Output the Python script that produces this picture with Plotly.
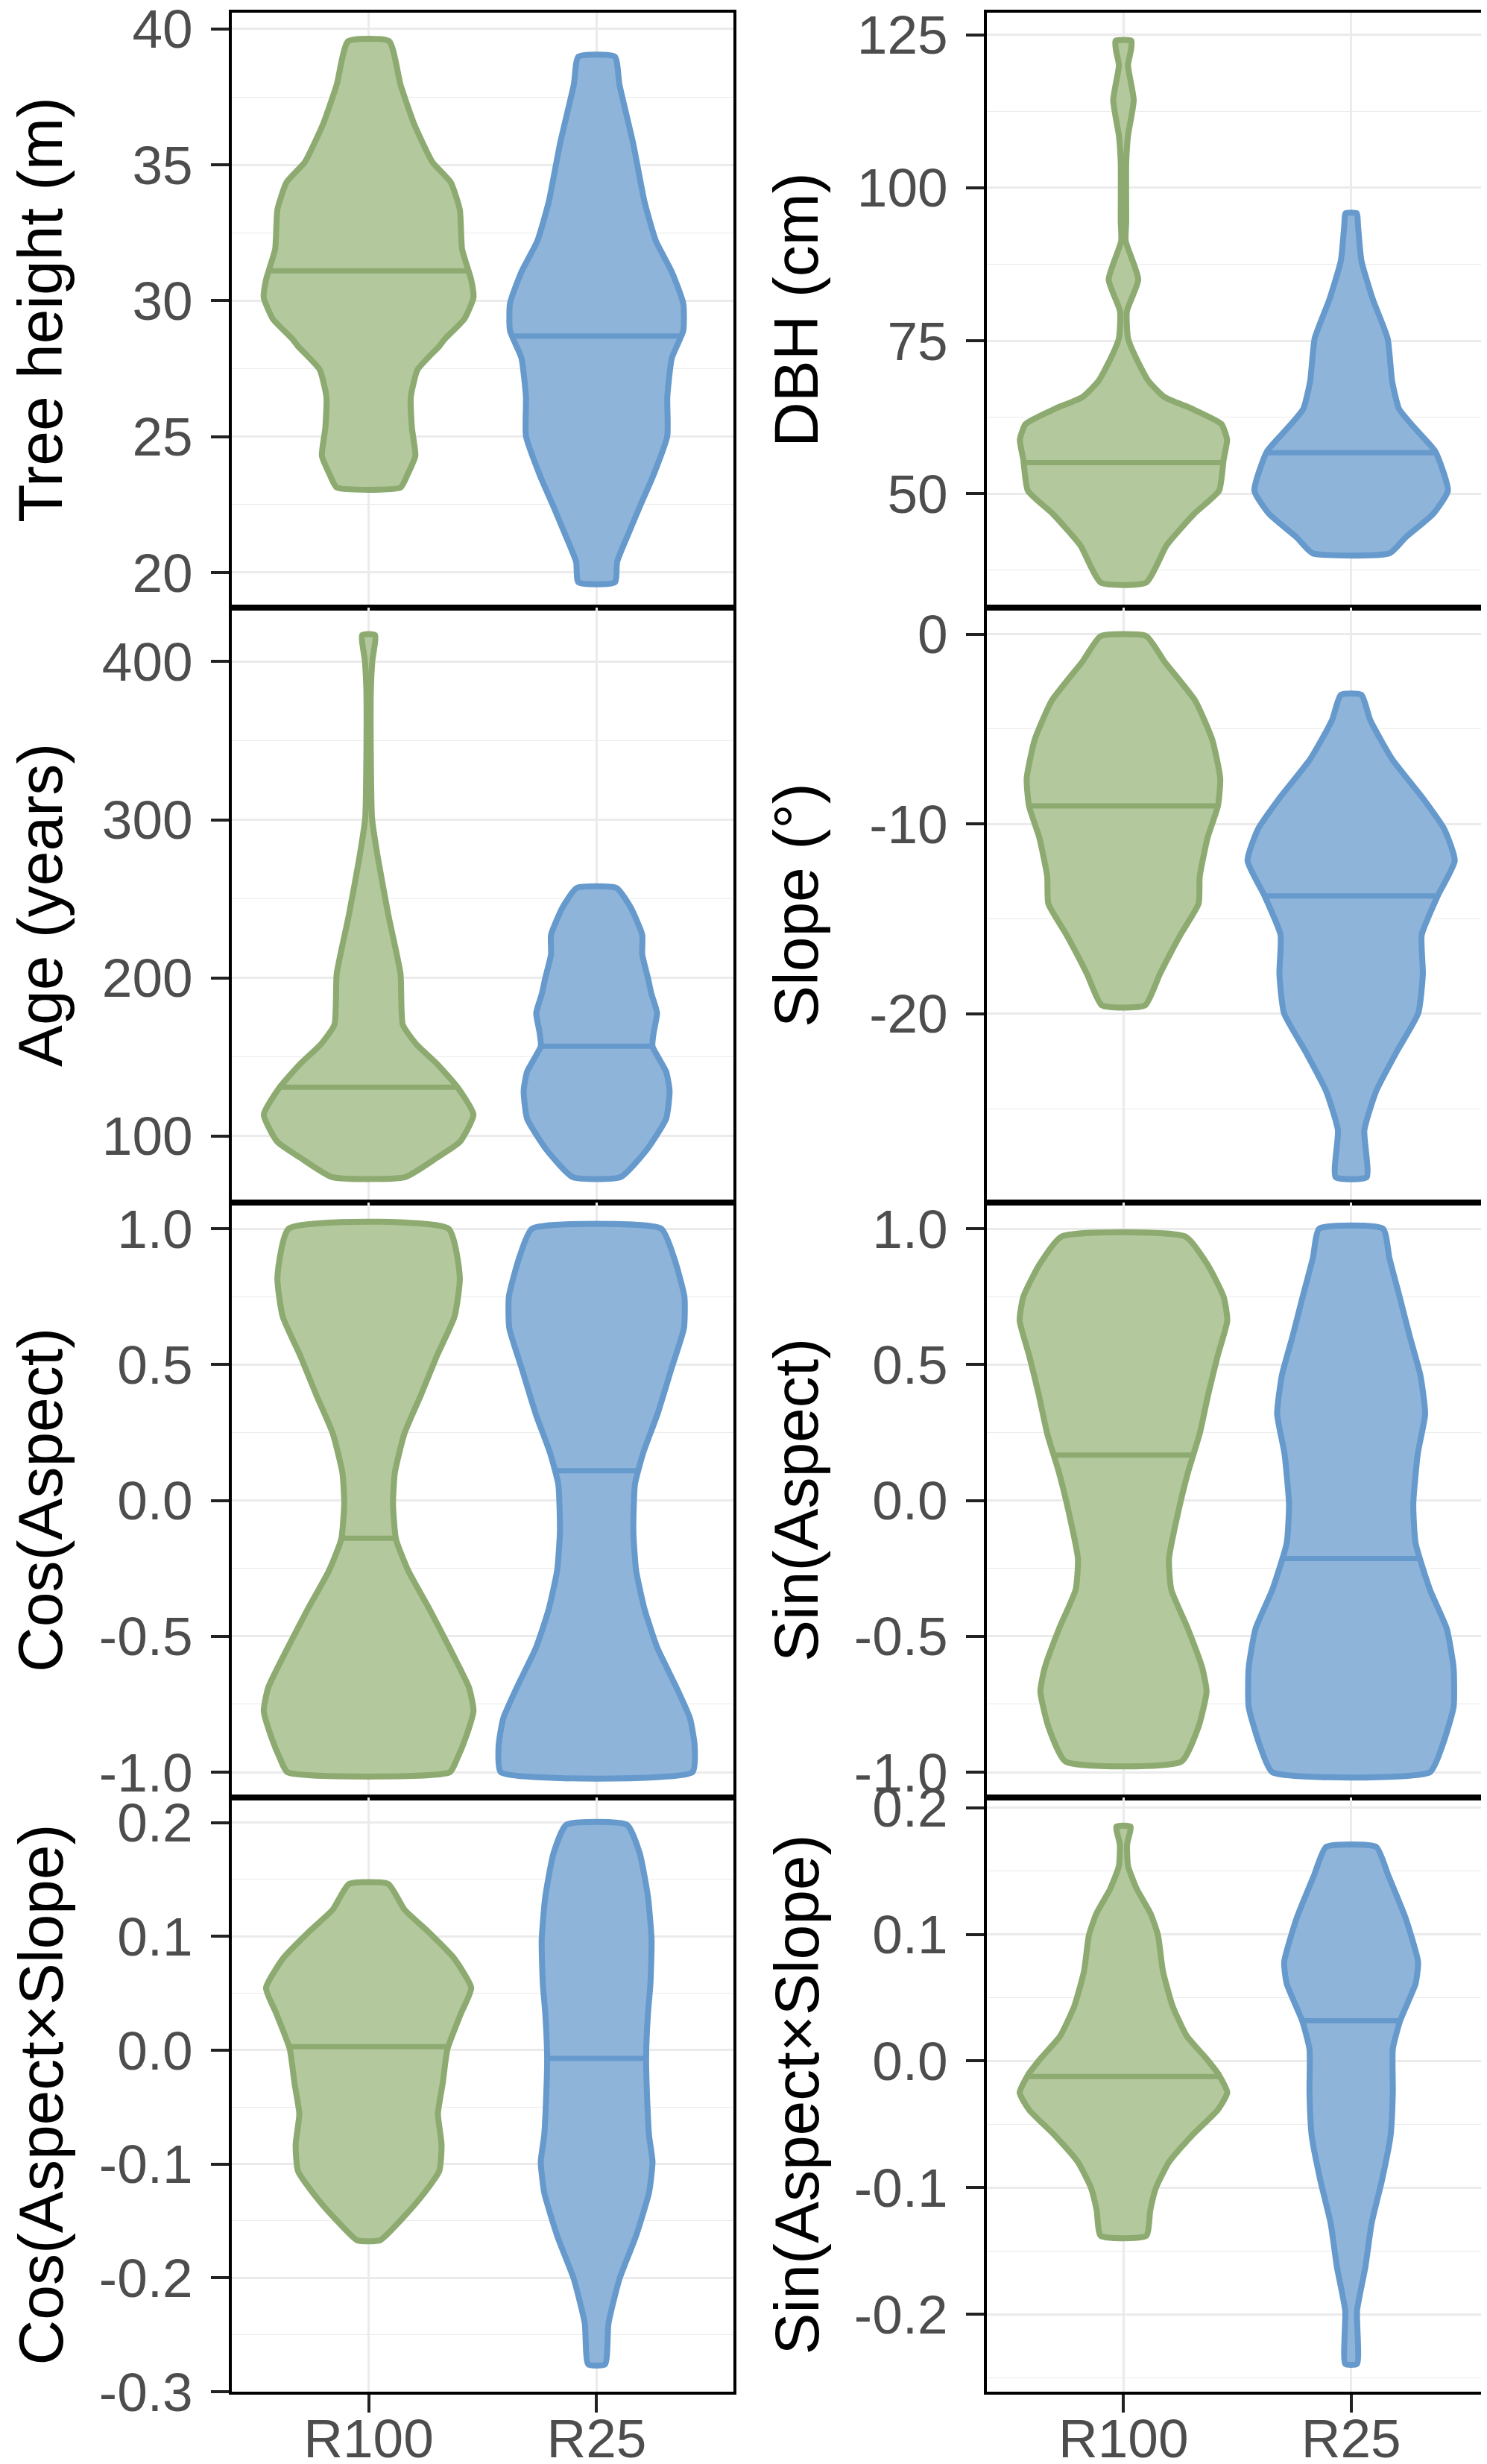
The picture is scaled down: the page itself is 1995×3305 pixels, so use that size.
import numpy as np
import plotly.graph_objects as go

groups = ["R100", "R25"]
fill_colors = ["#B3C89D", "#8FB4DA"]
line_colors = ["#8DAA70", "#6699CC"]

# violin outlines: y value and half-width (in category units)
# Tree height (m)
height_r100_y = [39.55, 37.95, 36.5, 35.1, 34.36, 33.35, 31.9, 30.77, 30.12, 29.33, 28.6, 28.33,
                 27.47, 26.46, 25.31, 24.3, 23.59, 23.13]
height_r100_w = [0.09, 0.14, 0.20, 0.28, 0.36, 0.40, 0.41, 0.45, 0.46, 0.42, 0.335, 0.31,
                 0.215, 0.185, 0.19, 0.205, 0.17, 0.14]
height_r25_y = [38.98, 37.95, 35.8, 33.64, 32.2, 31.06, 29.9, 28.9, 27.9, 26.46, 25.03, 23.6,
                22.44, 21.44, 20.4, 19.64]
height_r25_w = [0.08, 0.10, 0.16, 0.21, 0.26, 0.33, 0.38, 0.38, 0.33, 0.31, 0.31, 0.25,
                0.19, 0.14, 0.09, 0.08]
height_median = [31.1, 28.7]

# DBH (cm)
dbh_r100_y = [124.0, 122.5, 120, 114.3, 108.5, 104.1, 94.5, 91.3, 85, 79.8, 75.4, 72.2, 68.4,
              65.8, 63.9, 61.4, 58.8, 55.6, 50.5, 46.7, 41.6, 35.5]
dbh_r100_w = [0.035, 0.033, 0.02, 0.045, 0.02, 0.012, 0.012, 0.01, 0.065, 0.015, 0.02, 0.055, 0.11,
              0.18, 0.30, 0.43, 0.455, 0.44, 0.42, 0.31, 0.19, 0.10]
dbh_r25_y = [95.8, 93.9, 88.1, 81.8, 75.4, 68.4, 63.9, 60.7, 56.9, 50.5, 46.7, 42.9, 40.3]
dbh_r25_w = [0.025, 0.03, 0.045, 0.095, 0.16, 0.18, 0.21, 0.28, 0.37, 0.425, 0.36, 0.24, 0.17]
dbh_median = [55.1, 56.7]

# Age (years)
age_r100_y = [416.8, 400, 382.7, 338, 301, 276.5, 239.5, 202.5, 170.4, 158, 145.7, 130.9,
              113.6, 96.3, 86.4, 74.1]
age_r100_w = [0.028, 0.016, 0.01, 0.01, 0.015, 0.04, 0.087, 0.14, 0.15, 0.21, 0.30, 0.39,
              0.46, 0.40, 0.30, 0.16]
age_r25_y = [256.8, 244.4, 227.2, 214.8, 200, 190.1, 177.8, 165.4, 156.8, 140.7, 128.4, 111.1,
             91.4, 74.1]
age_r25_w = [0.088, 0.15, 0.20, 0.20, 0.225, 0.24, 0.265, 0.25, 0.245, 0.305, 0.32, 0.305,
             0.22, 0.105]
age_median = [130.9, 156.8]

# Slope (deg)
slope_r100_y = [-0.1, -1.44, -3.5, -5.56, -7.6, -9.05, -10.7, -12.76, -14.2, -15.84, -17.9, -19.55]
slope_r100_w = [0.10, 0.18, 0.315, 0.39, 0.425, 0.415, 0.37, 0.335, 0.33, 0.25, 0.16, 0.095]
slope_r25_y = [-3.19, -4.53, -6.58, -8.64, -10.29, -11.93, -13.79, -15.84, -17.9, -19.96, -22.0,
               -24.07, -26.13, -28.6]
slope_r25_w = [0.045, 0.084, 0.18, 0.315, 0.41, 0.455, 0.38, 0.31, 0.315, 0.295, 0.20,
               0.11, 0.058, 0.068]
slope_median = [-9.05, -13.79]

# Cos(Aspect)
cos_r100_y = [1.0, 0.82, 0.677, 0.533, 0.389, 0.246, 0.102, -0.013, -0.142, -0.257, -0.40,
              -0.544, -0.688, -0.774, -0.875, -0.947, -1.0]
cos_r100_w = [0.35, 0.40, 0.377, 0.30, 0.23, 0.157, 0.115, 0.107, 0.12, 0.173, 0.267,
              0.356, 0.44, 0.46, 0.425, 0.39, 0.356]
cos_r25_y = [1.0, 0.892, 0.749, 0.634, 0.49, 0.318, 0.174, 0.059, -0.114, -0.257, -0.40,
             -0.544, -0.688, -0.803, -0.904, -1.0]
cos_r25_w = [0.283, 0.34, 0.385, 0.383, 0.33, 0.267, 0.204, 0.168, 0.161, 0.173, 0.21,
             0.267, 0.35, 0.41, 0.43, 0.42]
cos_median = [-0.139, 0.109]

# Sin(Aspect)
sin_r100_y = [0.971, 0.864, 0.749, 0.662, 0.533, 0.389, 0.246, 0.102, -0.041, -0.214, -0.328,
              -0.472, -0.616, -0.703, -0.832, -0.961]
sin_r100_w = [0.272, 0.372, 0.44, 0.456, 0.414, 0.372, 0.335, 0.283, 0.241, 0.20, 0.21,
              0.283, 0.346, 0.365, 0.33, 0.254]
sin_r25_y = [1.0, 0.892, 0.749, 0.605, 0.461, 0.318, 0.174, -0.013, -0.157, -0.328, -0.472,
             -0.616, -0.76, -0.904, -1.0]
sin_r25_w = [0.14, 0.168, 0.213, 0.257, 0.304, 0.325, 0.293, 0.273, 0.283, 0.346, 0.42,
             0.45, 0.45, 0.40, 0.346]
sin_median = [0.167, -0.214]

# Cos(Aspect x Slope)
cosslope_r100_y = [0.146, 0.1236, 0.104, 0.0815, 0.0547, 0.0318, 0.0012, -0.029, -0.056,
                   -0.083, -0.106, -0.129, -0.148, -0.167]
cosslope_r100_w = [0.086, 0.157, 0.262, 0.372, 0.45, 0.404, 0.346, 0.325, 0.304,
                   0.32, 0.31, 0.23, 0.147, 0.05]
cosslope_r25_y = [0.198, 0.173, 0.135, 0.0968, 0.0586, 0.0318, -0.0064, -0.0446, -0.075,
                  -0.098, -0.125, -0.163, -0.201, -0.24, -0.276]
cosslope_r25_w = [0.133, 0.189, 0.225, 0.241, 0.236, 0.225, 0.217, 0.222, 0.23,
                  0.245, 0.23, 0.173, 0.10, 0.052, 0.037]
cosslope_median = [0.003, -0.0072]

# Sin(Aspect x Slope)
sinslope_r100_y = [0.185, 0.171, 0.154, 0.136, 0.116, 0.099, 0.0712, 0.0438, 0.0197, 0.0024,
                   -0.0112, -0.025, -0.0386, -0.059, -0.0798, -0.1004, -0.1176, -0.138]
sinslope_r100_w = [0.031, 0.016, 0.02, 0.058, 0.12, 0.152, 0.173, 0.215, 0.278, 0.362,
                   0.42, 0.456, 0.414, 0.30, 0.20, 0.142, 0.118, 0.10]
sinslope_r25_y = [0.169, 0.147, 0.1124, 0.0781, 0.061, 0.0318, 0.0094, -0.0249, -0.0592,
                  -0.0936, -0.128, -0.162, -0.197, -0.239]
sinslope_r25_w = [0.11, 0.162, 0.24, 0.294, 0.283, 0.215, 0.183, 0.183, 0.173,
                  0.136, 0.09, 0.063, 0.026, 0.026]
sinslope_median = [-0.0122, 0.0318]

# tick values / labels per panel
height_ticks = [20, 25, 30, 35, 40]
dbh_ticks = [50, 75, 100, 125]
age_ticks = [100, 200, 300, 400]
slope_ticks = [-20, -10, 0]
aspect_ticks = [-1.0, -0.5, 0.0, 0.5, 1.0]
aspect_labels = ["-1.0", "-0.5", "0.0", "0.5", "1.0"]
cosslope_ticks = [-0.3, -0.2, -0.1, 0.0, 0.1, 0.2]
cosslope_labels = ["-0.3", "-0.2", "-0.1", "0.0", "0.1", "0.2"]
sinslope_ticks = [-0.2, -0.1, 0.0, 0.1, 0.2]
sinslope_labels = ["-0.2", "-0.1", "0.0", "0.1", "0.2"]

panels = [
    ("Tree height (m)", height_r100_y, height_r100_w, height_r25_y, height_r25_w, height_median,
     [18.71, 40.60], height_ticks, [str(t) for t in height_ticks], 2.5),
    ("DBH (cm)", dbh_r100_y, dbh_r100_w, dbh_r25_y, dbh_r25_w, dbh_median,
     [31.4, 128.6], dbh_ticks, [str(t) for t in dbh_ticks], 12.5),
    ("Age (years)", age_r100_y, age_r100_w, age_r25_y, age_r25_w, age_median,
     [58.0, 434.1], age_ticks, [str(t) for t in age_ticks], 50),
    ("Slope (°)", slope_r100_y, slope_r100_w, slope_r25_y, slope_r25_w, slope_median,
     [-29.94, 1.40], slope_ticks, [str(t) for t in slope_ticks], 5),
    ("Cos(Aspect)", cos_r100_y, cos_r100_w, cos_r25_y, cos_r25_w, cos_median,
     [-1.093, 1.096], aspect_ticks, aspect_labels, 0.25),
    ("Sin(Aspect)", sin_r100_y, sin_r100_w, sin_r25_y, sin_r25_w, sin_median,
     [-1.093, 1.096], aspect_ticks, aspect_labels, 0.25),
    ("Cos(Aspect×Slope)", cosslope_r100_y, cosslope_r100_w, cosslope_r25_y, cosslope_r25_w,
     cosslope_median, [-0.3, 0.222], cosslope_ticks, cosslope_labels, 0.05),
    ("Sin(Aspect×Slope)", sinslope_r100_y, sinslope_r100_w, sinslope_r25_y, sinslope_r25_w,
     sinslope_median, [-0.261, 0.208], sinslope_ticks, sinslope_labels, 0.05),
]

W, H = 1995, 3305
col_px = [(303, 976), (1316, 1988)]
row_px = [(9, 807), (807, 1605), (1605, 2403), (2403, 3200)]
title_x_px = [46, 1060]
FONT = "Liberation Sans, Arial, sans-serif"
GRID = "#EBEBEB"
TICKFONT = dict(size=73, color="#4D4D4D", family=FONT)

fig = go.Figure()
layout = {}
annotations = []

for i, (title, y1, w1, y2, w2, med, yrange, ticks, labels, minor_step) in enumerate(panels):
    row, col = i // 2, i % 2
    n = i + 1
    xa = "x" if n == 1 else f"x{n}"
    ya = "y" if n == 1 else f"y{n}"

    for k, (yy, ww) in enumerate([(y1, w1), (y2, w2)]):
        pos = k + 1
        xs = [pos + w for w in ww] + [pos - w for w in ww[::-1]] + [pos + ww[0]]
        ys = list(yy) + list(yy[::-1]) + [yy[0]]
        fig.add_trace(go.Scatter(x=xs, y=ys, xaxis=xa, yaxis=ya, mode="lines",
                                 fill="toself", fillcolor=fill_colors[k],
                                 line=dict(color=line_colors[k], width=8, shape="spline",
                                           smoothing=0.5),
                                 hoverinfo="skip", showlegend=False))
        # median line spans the violin width at the median
        wm = np.interp(med[k], yy[::-1], ww[::-1])
        fig.add_trace(go.Scatter(x=[pos - wm, pos + wm], y=[med[k], med[k]], xaxis=xa, yaxis=ya,
                                 mode="lines", line=dict(color=line_colors[k], width=7),
                                 hoverinfo="skip", showlegend=False))

    x0, x1 = col_px[col]
    top, bot = row_px[row]
    bottom_row = row == 3
    layout[f"xaxis{n}"] = dict(
        domain=[x0 / W, x1 / W], range=[0.4, 2.6], anchor=ya, automargin=False,
        tickvals=[1, 2], ticktext=groups, showticklabels=bottom_row,
        ticks="outside" if bottom_row else "", ticklen=24, tickwidth=3.5, tickcolor="#222222",
        tickfont=TICKFONT, ticklabelstandoff=-27, ticklabeloverflow="allow",
        showgrid=True, gridcolor=GRID, gridwidth=2.5, zeroline=False,
        showline=True, mirror=True, linecolor="black", linewidth=3.5,
    )
    layout[f"yaxis{n}"] = dict(
        domain=[1 - bot / H, 1 - top / H], range=yrange, anchor=xa, automargin=False,
        tickvals=ticks, ticktext=labels, ticks="outside", ticklen=24, tickwidth=3.5,
        tickcolor="#222222", tickfont=TICKFONT, ticklabelstandoff=10, ticklabeloverflow="allow",
        showgrid=True, gridcolor=GRID, gridwidth=2.5, zeroline=False,
        minor=dict(dtick=minor_step, tick0=ticks[0], showgrid=True, gridcolor=GRID,
                   gridwidth=1.3, ticks=""),
        showline=True, mirror=True, linecolor="black", linewidth=3.5,
    )
    annotations.append(dict(
        text=title, xref="paper", yref="paper", x=title_x_px[col] / W,
        y=1 - (top + bot) / 2 / H, xanchor="center", yanchor="middle", textangle=-90,
        showarrow=False, font=dict(size=84, color="black", family=FONT),
    ))

fig.update_layout(
    width=W, height=H, margin=dict(l=0, r=0, t=0, b=0),
    paper_bgcolor="white", plot_bgcolor="white",
    annotations=annotations, **layout,
)

fig.write_html("out.html")
